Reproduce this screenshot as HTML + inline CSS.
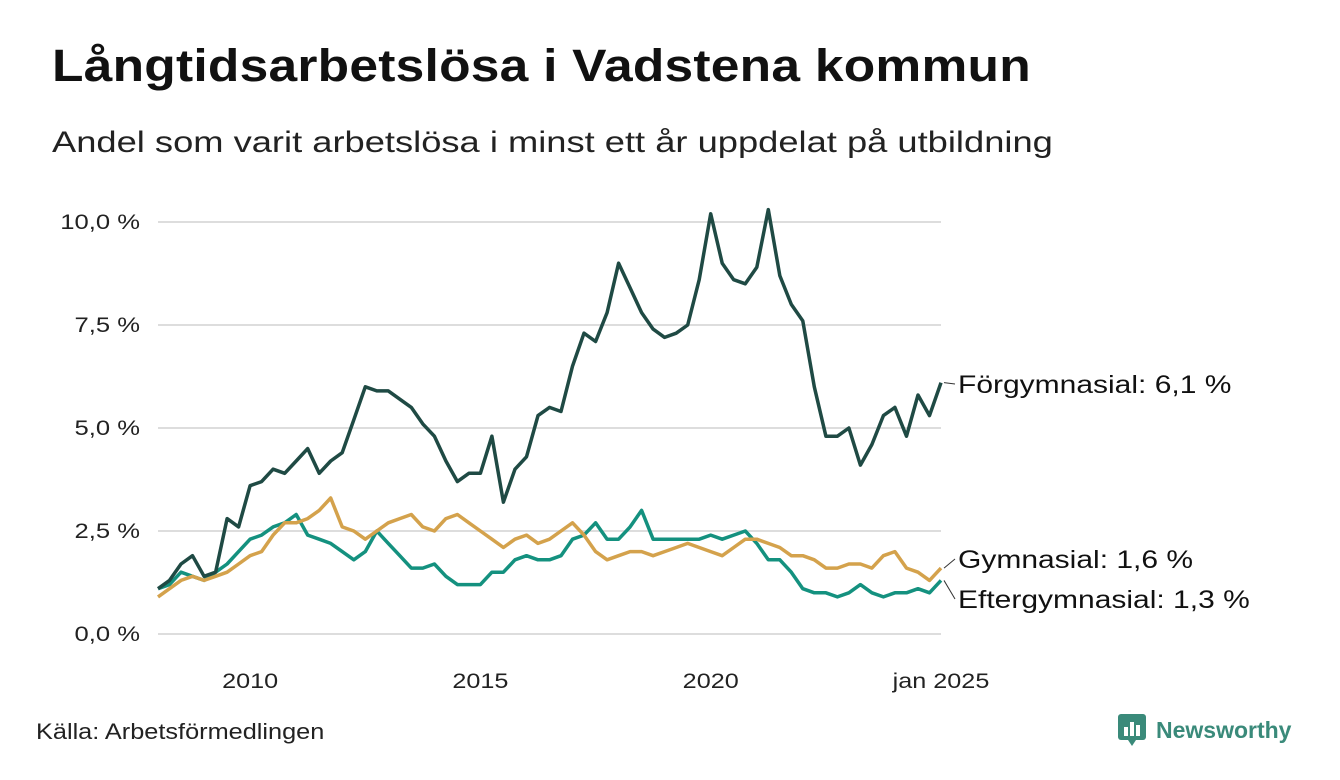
<!DOCTYPE html>
<html><head><meta charset="utf-8">
<style>
body{margin:0;background:#fff;width:1340px;height:780px;overflow:hidden;font-family:"Liberation Sans",sans-serif;color:#111}
#title{position:absolute;left:52px;top:40px;font-size:45px;font-weight:bold;margin:0;letter-spacing:0.2px;transform:scaleX(1.145);transform-origin:0 0;white-space:nowrap}
#subtitle{position:absolute;left:52px;top:126px;font-size:30px;margin:0;color:#222;transform:scaleX(1.21);transform-origin:0 0;white-space:nowrap}
#source{position:absolute;left:36px;top:719px;font-size:22px;color:#222;transform:scaleX(1.15);transform-origin:0 0;white-space:nowrap}
#logo{position:absolute;left:1118px;top:714px;display:flex;align-items:center;gap:8px;color:#3a8a7a;font-weight:bold;font-size:23px}
</style></head><body>
<h1 id="title">Långtidsarbetslösa i Vadstena kommun</h1>
<p id="subtitle">Andel som varit arbetslösa i minst ett år uppdelat på utbildning</p>
<svg id="chart" width="1340" height="780" style="position:absolute;left:0;top:0"></svg>
<div id="source">Källa: Arbetsförmedlingen</div>
<div id="logo">
<svg width="30" height="32"><rect x="0" y="0" width="28" height="26" rx="3" fill="#3a8a7a"/><polygon points="10,26 14,32 18,26" fill="#3a8a7a"/><rect x="6" y="13" width="4" height="9" fill="#fff"/><rect x="12" y="8" width="4" height="14" fill="#fff"/><rect x="18" y="11" width="4" height="11" fill="#fff"/></svg>
<span>Newsworthy</span></div>
<script>
const dates=[];for(let i=0;i<=68;i++)dates.push(2008+i*0.25);
const forgymnasial=[1.1,1.3,1.7,1.9,1.4,1.5,2.8,2.6,3.6,3.7,4.0,3.9,4.2,4.5,3.9,4.2,4.4,5.2,6.0,5.9,5.9,5.7,5.5,5.1,4.8,4.2,3.7,3.9,3.9,4.8,3.2,4.0,4.3,5.3,5.5,5.4,6.5,7.3,7.1,7.8,9.0,8.4,7.8,7.4,7.2,7.3,7.5,8.6,10.2,9.0,8.6,8.5,8.9,10.3,8.7,8.0,7.6,6.0,4.8,4.8,5.0,4.1,4.6,5.3,5.5,4.8,5.8,5.3,6.1];
const gymnasial=[0.9,1.1,1.3,1.4,1.3,1.4,1.5,1.7,1.9,2.0,2.4,2.7,2.7,2.8,3.0,3.3,2.6,2.5,2.3,2.5,2.7,2.8,2.9,2.6,2.5,2.8,2.9,2.7,2.5,2.3,2.1,2.3,2.4,2.2,2.3,2.5,2.7,2.4,2.0,1.8,1.9,2.0,2.0,1.9,2.0,2.1,2.2,2.1,2.0,1.9,2.1,2.3,2.3,2.2,2.1,1.9,1.9,1.8,1.6,1.6,1.7,1.7,1.6,1.9,2.0,1.6,1.5,1.3,1.6];
const eftergymnasial=[1.1,1.2,1.5,1.4,1.3,1.5,1.7,2.0,2.3,2.4,2.6,2.7,2.9,2.4,2.3,2.2,2.0,1.8,2.0,2.5,2.2,1.9,1.6,1.6,1.7,1.4,1.2,1.2,1.2,1.5,1.5,1.8,1.9,1.8,1.8,1.9,2.3,2.4,2.7,2.3,2.3,2.6,3.0,2.3,2.3,2.3,2.3,2.3,2.4,2.3,2.4,2.5,2.2,1.8,1.8,1.5,1.1,1.0,1.0,0.9,1.0,1.2,1.0,0.9,1.0,1.0,1.1,1.0,1.3];
const yTicks=[0,2.5,5,7.5,10];
const yTickLabels=["0,0 %","2,5 %","5,0 %","7,5 %","10,0 %"];
const xTicks=[2010,2015,2020,2025];
const xTickLabels=["2010","2015","2020","jan 2025"];
const seriesNames=["Förgymnasial: 6,1 %","Gymnasial: 1,6 %","Eftergymnasial: 1,3 %"];
const X=t=>158+(t-2008)*(941-158)/17;
const Y=v=>634-v*41.2;
const svg=document.getElementById('chart');const NS='http://www.w3.org/2000/svg';
function mk(tag,attrs,parent){const e=document.createElementNS(NS,tag);for(const k in attrs)e.setAttribute(k,attrs[k]);(parent||svg).appendChild(e);return e;}
yTicks.forEach((v,i)=>{
 const g=mk('line',{x1:158,x2:941,y1:Y(v),y2:Y(v),stroke:'#dddddd','stroke-width':2});
 
 
 const t=mk('text',{x:0,y:0,transform:`translate(140,${Y(v)+7}) scale(1.22,1)`,'text-anchor':'end','font-size':21,fill:'#222'});
 t.textContent=yTickLabels[i];
 
 
});
xTicks.forEach((v,i)=>{
 const t=mk('text',{x:0,y:0,transform:`translate(${X(v)},688) scale(1.2,1)`,'text-anchor':'middle','font-size':21,fill:'#222'});
 t.textContent=xTickLabels[i];
 
 
});
const series=[[forgymnasial,'#1f4a44'],[gymnasial,'#d4a24c'],[eftergymnasial,'#14917f']];
const labelY=[384,559,599];
[2,1,0].forEach(i=>{
 const [vals,col]=series[i];
 const p=mk('path',{d:vals.map((v,j)=>(j?'L':'M')+X(dates[j]).toFixed(1)+','+Y(v).toFixed(1)).join(''),fill:'none',stroke:col,'stroke-width':3.5,'stroke-linejoin':'round'});
 
 
});
series.forEach(([vals,col],i)=>{
 const last=vals[vals.length-1];
 const l=mk('line',{x1:X(2025)+3,y1:Y(last),x2:955,y2:labelY[i],stroke:'#333','stroke-width':1});
 
 
 const t=mk('text',{x:0,y:0,transform:`translate(958,${labelY[i]+9}) scale(1.2,1)`,'font-size':25,fill:'#111'});
 t.textContent=seriesNames[i];
 
 
});
</script>
</body></html>
